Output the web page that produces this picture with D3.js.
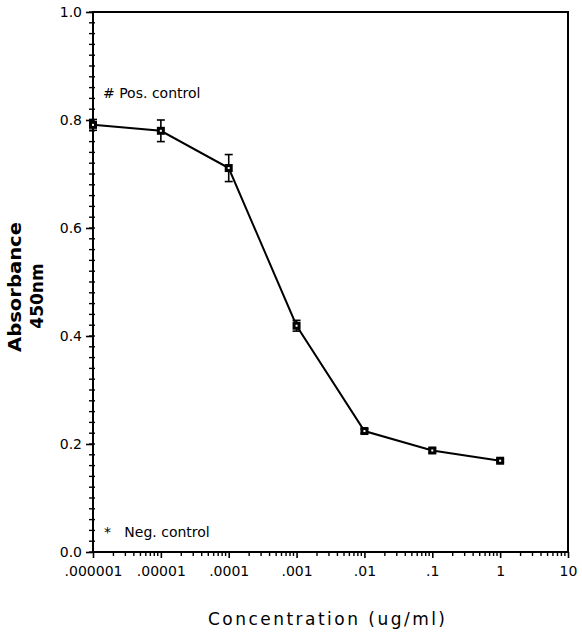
<!DOCTYPE html>
<html>
<head>
<meta charset="utf-8">
<script src="https://cdn.jsdelivr.net/npm/d3@7"></script>
<style>
  body { margin: 0; background: #fff; }
  text { font-family: "DejaVu Sans", Verdana, sans-serif; fill: #000; }
</style>
</head>
<body>
<div id="chart"></div>
<script>
// data
var concentrations = [0.000001, 0.00001, 0.0001, 0.001, 0.01, 0.1, 1];
var absorbance = [0.791, 0.780, 0.711, 0.419, 0.224, 0.188, 0.169];
var errors = [0.010, 0.020, 0.025, 0.010, 0.004, 0.004, 0.003];
var xTickValues = [0.000001, 0.00001, 0.0001, 0.001, 0.01, 0.1, 1, 10];
var xTickLabels = [".000001", ".00001", ".0001", ".001", ".01", ".1", "1", "10"];
var yTickValues = [0, 0.2, 0.4, 0.6, 0.8, 1.0];

var svgWidth = 582;
var svgHeight = 633;
var margin = { top: 12, right: 14, bottom: 81, left: 93 };
var width = svgWidth - margin.left - margin.right;
var height = svgHeight - margin.top - margin.bottom;

var svg = d3.select("#chart")
    .append("svg")
    .attr("width", svgWidth)
    .attr("height", svgHeight);

var chartGroup = svg.append("g")
    .attr("transform", `translate(${margin.left}, ${margin.top})`);

var xscale = d3.scaleLog()
    .domain([0.000001, 10])
    .range([0, width]);

var yscale = d3.scaleLinear()
    .domain([0, 1])
    .range([height, 0]);

// frame
chartGroup.append("rect")
    .attr("width", width)
    .attr("height", height)
    .attr("fill", "none")
    .attr("stroke", "#000")
    .attr("stroke-width", 2);

// minor ticks on x (2..9 each decade), pointing down
var xMinor = [];
for (var e = -6; e < 1; e++) {
    for (var m = 2; m <= 9; m++) xMinor.push(m * Math.pow(10, e));
}
chartGroup.selectAll(".xminor")
    .data(xMinor)
    .enter()
    .append("line")
    .attr("x1", d => xscale(d)).attr("x2", d => xscale(d))
    .attr("y1", height).attr("y2", height + 4)
    .attr("stroke", "#000").attr("stroke-width", 1.4);

var bottomAxis = d3.axisBottom(xscale)
    .tickValues(xTickValues)
    .tickFormat((d, i) => xTickLabels[i])
    .tickSize(6)
    .tickPadding(8);

var xAxis = chartGroup.append("g")
    .attr("transform", `translate(0, ${height})`)
    .call(bottomAxis);
xAxis.select(".domain").remove();
xAxis.selectAll("line").attr("stroke-width", 1.6);
xAxis.selectAll("text").style("font-size", "14px");

// minor ticks on y every 0.02
var yMinor = d3.range(0, 1.0001, 0.02);
chartGroup.selectAll(".yminor")
    .data(yMinor)
    .enter()
    .append("line")
    .attr("x1", -4).attr("x2", 2)
    .attr("y1", d => yscale(d)).attr("y2", d => yscale(d))
    .attr("stroke", "#000").attr("stroke-width", 1.4);

var leftAxis = d3.axisLeft(yscale)
    .tickValues(yTickValues)
    .tickFormat(d3.format(".1f"))
    .tickSize(7)
    .tickPadding(4);

var yAxis = chartGroup.append("g").call(leftAxis);
yAxis.select(".domain").remove();
yAxis.selectAll("line").attr("stroke-width", 1.6);
yAxis.selectAll("text").style("font-size", "14px");

// line
var line = d3.line()
    .x((d, i) => xscale(concentrations[i]))
    .y(d => yscale(d));

chartGroup.append("path")
    .datum(absorbance)
    .attr("d", line)
    .attr("fill", "none")
    .attr("stroke", "#000")
    .attr("stroke-width", 2);

// error bars
var errGroup = chartGroup.selectAll(".err")
    .data(absorbance)
    .enter()
    .append("g");
errGroup.append("line")
    .attr("x1", (d, i) => xscale(concentrations[i]))
    .attr("x2", (d, i) => xscale(concentrations[i]))
    .attr("y1", (d, i) => yscale(d + errors[i]))
    .attr("y2", (d, i) => yscale(d - errors[i]))
    .attr("stroke", "#000").attr("stroke-width", 1.6);
[1, -1].forEach(function (s) {
    errGroup.append("line")
        .attr("x1", (d, i) => xscale(concentrations[i]) - 4)
        .attr("x2", (d, i) => xscale(concentrations[i]) + 4)
        .attr("y1", (d, i) => yscale(d + s * errors[i]))
        .attr("y2", (d, i) => yscale(d + s * errors[i]))
        .attr("stroke", "#000").attr("stroke-width", 1.6);
});

// square markers
chartGroup.selectAll(".pt")
    .data(absorbance)
    .enter()
    .append("rect")
    .attr("x", (d, i) => xscale(concentrations[i]) - 4)
    .attr("y", d => yscale(d) - 4)
    .attr("width", 8).attr("height", 8)
    .attr("fill", "#000");
chartGroup.selectAll(".ptc")
    .data(absorbance)
    .enter()
    .append("rect")
    .attr("x", (d, i) => xscale(concentrations[i]) - 1)
    .attr("y", d => yscale(d) - 1)
    .attr("width", 2).attr("height", 2)
    .attr("fill", "#fff");

// annotations
chartGroup.append("text")
    .attr("x", 10).attr("y", 86)
    .style("font-size", "14px")
    .text("# Pos. control");
chartGroup.append("text")
    .attr("x", 11).attr("y", 525)
    .style("font-size", "14px")
    .style("white-space", "pre")
    .text("*   Neg. control");

// axis labels
svg.append("text")
    .attr("transform", "translate(21, 287) rotate(-90)")
    .attr("text-anchor", "middle")
    .style("font-size", "17px")
    .style("font-weight", "bold")
    .attr("textLength", 130)
    .attr("lengthAdjust", "spacingAndGlyphs")
    .text("Absorbance");
svg.append("text")
    .attr("transform", "translate(43, 296) rotate(-90)")
    .attr("text-anchor", "middle")
    .style("font-size", "17px")
    .style("font-weight", "bold")
    .text("450nm");

svg.append("text")
    .attr("x", 208).attr("y", 625)
    .style("font-size", "17px")
    .attr("textLength", 237)
    .attr("lengthAdjust", "spacing")
    .text("Concentration (ug/ml)");
</script>
</body>
</html>
